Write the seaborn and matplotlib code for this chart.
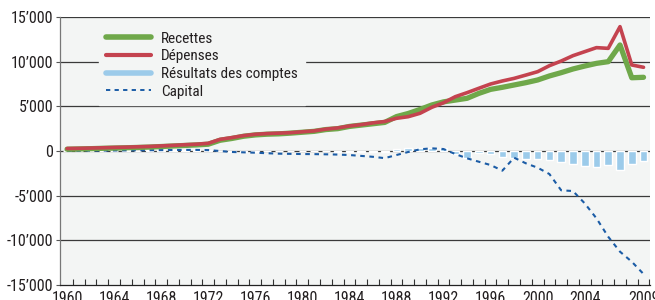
import numpy as np
import pandas as pd
import matplotlib
matplotlib.use("Agg")
import matplotlib.pyplot as plt
from matplotlib.lines import Line2D
from matplotlib.ticker import FuncFormatter, FixedLocator
import seaborn as sns

years = list(range(1960, 2010))

recettes = [200, 230, 260, 300, 330, 360, 400, 440, 500, 560, 620, 680, 760,
            1200, 1400, 1650, 1800, 1880, 1920, 2000, 2100, 2200, 2400, 2500, 2750,
            2900, 3050, 3200, 3850, 4200, 4650, 5150, 5500, 5700, 5900, 6450, 6900,
            7130, 7390, 7650, 7950, 8400, 8770, 9180, 9510, 9810, 10000, 11870, 8200, 8250]

depenses = [280, 300, 330, 360, 400, 430, 470, 510, 570, 630, 700, 760, 860,
            1300, 1500, 1720, 1870, 1950, 2000, 2050, 2150, 2250, 2450, 2580, 2800,
            2950, 3150, 3300, 3660, 3840, 4220, 4890, 5400, 6080, 6530, 7020, 7500,
            7840, 8130, 8500, 8880, 9550, 10070, 10670, 11120, 11570, 11490, 13920, 9630, 9370]

resultats = [30, 40, 30, 50, 40, 60, 50, 80, 100, 120, 100, 80, 60,
             -50, -80, -100, -60, -40, -30, -20, -30, -50, -40, -60, -80,
             -60, -100, -150, 220, 330, 370, 330, 300, -370, -820, -260, -370,
             -630, -820, -900, -860, -970, -1190, -1420, -1640, -1750, -1530, -2130, -1420, -1080]

capital = [0, 20, 40, 50, 60, 70, 80, 90, 100, 110, 120, 120, 100,
           0, -110, -150, -190, -250, -300, -320, -340, -350, -370, -400, -450,
           -550, -650, -800, -450, -110, 190, 300, 220, -340, -820, -1200, -1570,
           -2200, -750, -1380, -1870, -2580, -4400, -4480, -5860, -7540, -9600, -11270, -12390, -13770]

labels = ["Recettes", "Dépenses", "Résultats des comptes", "Capital"]
tick_years = [1960, 1964, 1968, 1972, 1976, 1980, 1984, 1988, 1992, 1996, 2000, 2004, 2009]

df = pd.DataFrame({"year": years, "recettes": recettes, "depenses": depenses,
                   "resultats": resultats, "capital": capital})

GREEN = "#6fa84a"
RED = "#c4434f"
LBLUE = "#9ccbea"
DBLUE = "#1b5ca6"
BG = "#f3f5f4"
TXT = "#231f20"

sns.set_theme(style="white")
plt.rcParams["font.family"] = ["Roboto Condensed", "Archivo Narrow", "Barlow Condensed", "DejaVu Sans"]
plt.rcParams["text.color"] = TXT
plt.rcParams["xtick.color"] = TXT
plt.rcParams["ytick.color"] = TXT

fig = plt.figure(figsize=(6.55, 3.0), dpi=100)
ax = fig.add_axes([60 / 655, 1 - 285 / 300, 590 / 655, 268 / 300])
ax.set_facecolor(BG)

for v in [-10000, -5000, 0, 5000, 10000, 15000]:
    ax.axhline(v, color="#3a3a3a", lw=0.9, zorder=1)

sns.barplot(data=df, x="year", y="resultats", native_scale=True, width=0.65,
            color=LBLUE, saturation=1, ax=ax, zorder=2)
sns.lineplot(data=df, x="year", y="capital", color=DBLUE, lw=1.5, ax=ax,
             dashes=False, zorder=3, linestyle=(0, (2.2, 2.2)))
sns.lineplot(data=df, x="year", y="recettes", color=GREEN, lw=3.8, ax=ax, zorder=4)
sns.lineplot(data=df, x="year", y="depenses", color=RED, lw=2.6, ax=ax, zorder=5)

ax.set_xlim(1959.4, 2009.55)
ax.set_ylim(-15000, 15000)
ax.set_xlabel("")
ax.set_ylabel("")

ax.set_yticks([-15000, -10000, -5000, 0, 5000, 10000, 15000])
ax.yaxis.set_major_formatter(FuncFormatter(lambda v, p: f"{int(v):,}".replace(",", "\u2019")))
ax.tick_params(axis="y", labelsize=11.5, length=3, width=0.8, color="#555555",
               direction="out", pad=2, left=True)

ax.set_xticks(tick_years)
ax.set_xticklabels([str(y) for y in tick_years])
ax.xaxis.set_minor_locator(FixedLocator([y + 0.5 for y in years]))
ax.tick_params(axis="x", which="major", length=0, labelsize=11.5, pad=4)
ax.tick_params(axis="x", which="minor", length=4, width=0.8, direction="in",
               color="#333333", bottom=True)

for s in ["top", "right"]:
    ax.spines[s].set_visible(False)
ax.spines["left"].set_color("#777777")
ax.spines["left"].set_linewidth(0.9)
ax.spines["bottom"].set_color("#222222")
ax.spines["bottom"].set_linewidth(0.9)

handles = [Line2D([], [], color=GREEN, lw=4.0),
           Line2D([], [], color=RED, lw=3.0),
           Line2D([], [], color=LBLUE, lw=4.0),
           Line2D([], [], color=DBLUE, lw=1.4, linestyle=(0, (2.2, 2.2)))]
leg = ax.legend(handles, labels, loc="upper left", bbox_to_anchor=(31 / 590, 1.0),
                frameon=True, facecolor=BG, edgecolor=BG, framealpha=1, fancybox=False,
                fontsize=11, handlelength=3.0, handletextpad=0.65, labelspacing=0.24,
                borderpad=0.45)
leg.set_zorder(6)

fig.savefig("out.png", dpi=100)
